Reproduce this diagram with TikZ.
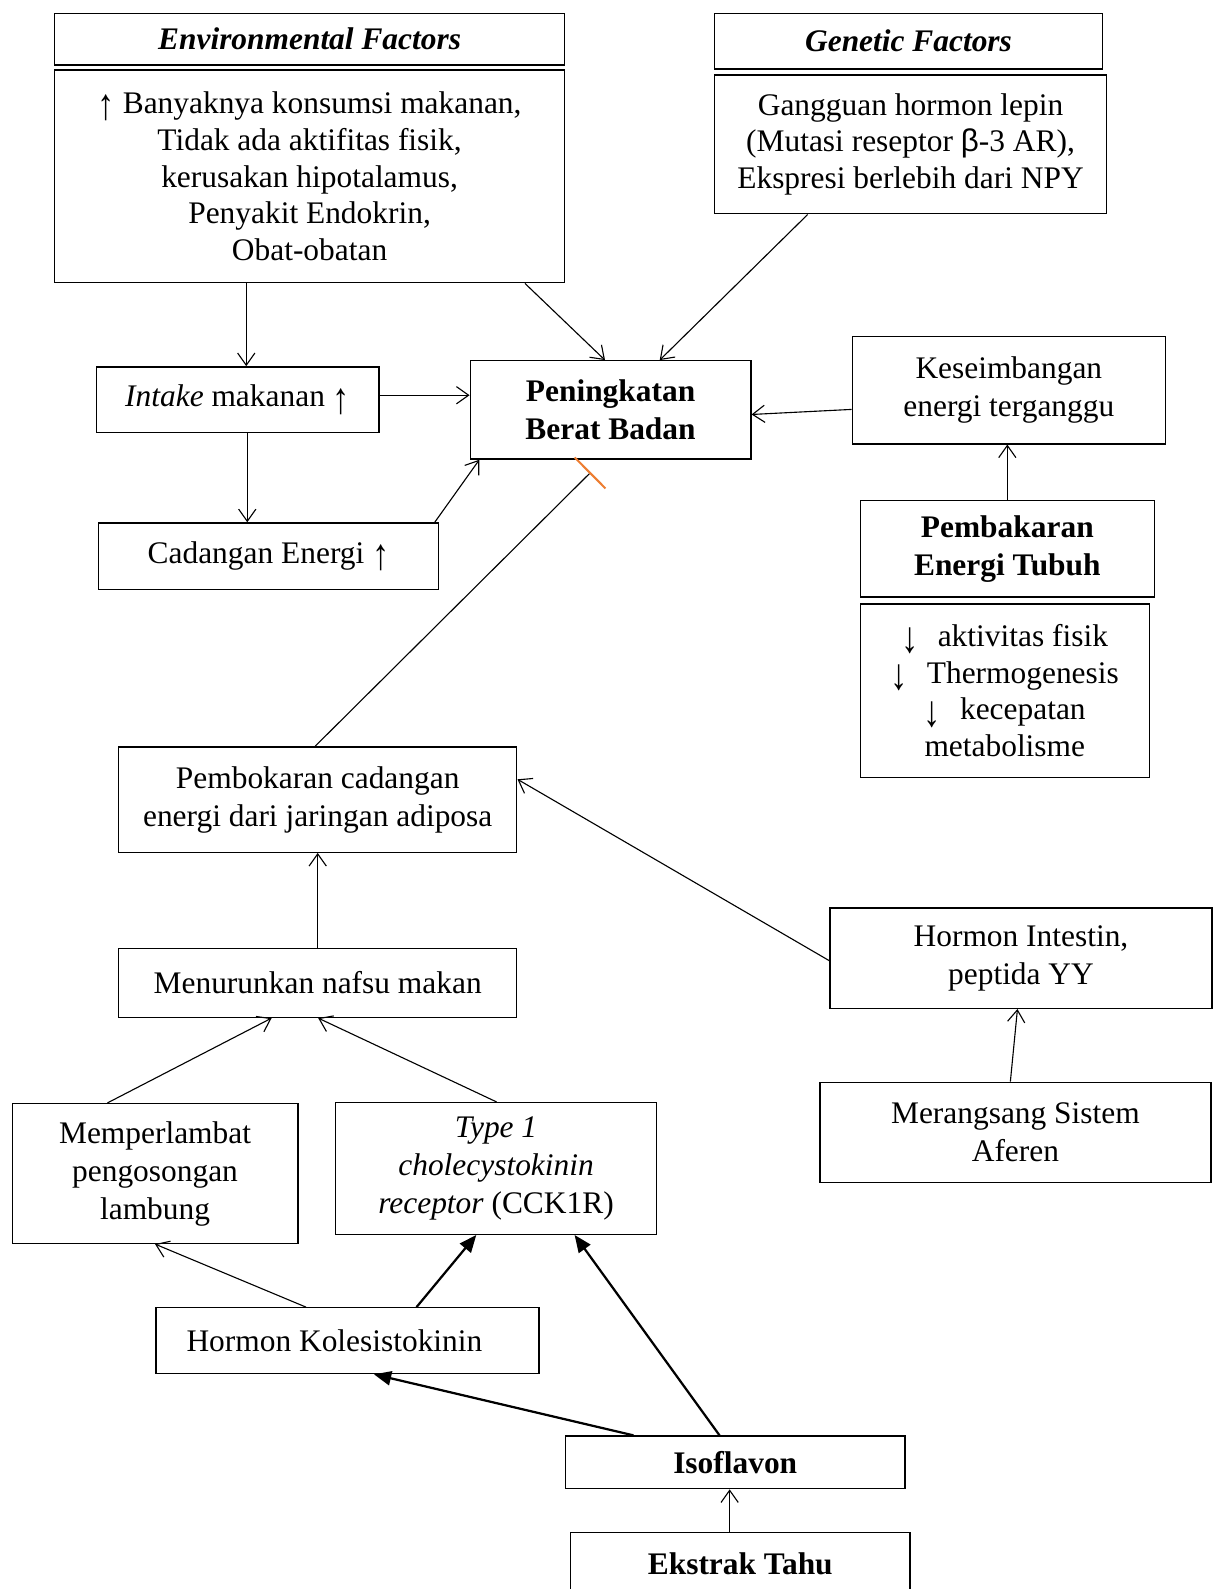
\documentclass[tikz,border=0pt]{standalone}
\usepackage{fontspec}
\setmainfont{Liberation Serif}
\newfontfamily\sansbeta{Liberation Sans}
\usetikzlibrary{arrows.meta}
\definecolor{barorange}{RGB}{237,125,49}
\newcommand\upar{\raisebox{-0.2em}{\scalebox{1.1}[1.4]{↑}}}
\newcommand\dnar{\raisebox{-0.2em}{\scalebox{1.1}[1.4]{↓}}}
\tikzset{
  box/.style={draw, line width=1.3pt, inner sep=0pt, align=center, font=\fontsize{31}{37.5}\selectfont},
  tight/.style={font=\fontsize{31}{36.2}\selectfont},
  arr/.style={line width=1.1pt, -{Straight Barb[length=12pt,width=17pt,line width=1.1pt]}},
  thickarr/.style={line width=2.2pt, -{Triangle[length=17pt,width=14pt]}},
  plain/.style={line width=1.1pt},
}
\begin{document}
\begin{tikzpicture}[x=1pt,y=-1pt]
\useasboundingbox[fill=white] (0,0) rectangle (1197,1568);

% nodes
\node[box, minimum width=503pt, minimum height=51pt] (envH) at (305.5,38.5) {\textbf{\textit{Environmental Factors}}};
\node[box, tight, minimum width=503pt, minimum height=210pt] (envB) at (305.5,174) {\upar{} Banyaknya konsumsi makanan,\\ Tidak ada aktifitas fisik,\\ kerusakan hipotalamus,\\ Penyakit Endokrin,\\ Obat-obatan};
\node[box, minimum width=383pt, minimum height=55pt] (genH) at (896.5,40.5) {\textbf{\textit{Genetic Factors}}};
\node[box, tight, minimum width=387pt, minimum height=137pt] (genB) at (898.5,142.5) {Gangguan hormon lepin\\ (Mutasi reseptor {\sansbeta β}-3 AR),\\ Ekspresi berlebih dari NPY};
\node[box, minimum width=279pt, minimum height=65pt] (intake) at (234.5,394.5) {\textit{Intake} makanan \upar};
\node[box, minimum width=277pt, minimum height=97pt] (pen) at (602.5,404.5) {\textbf{Peningkatan}\\ \textbf{Berat Badan}};
\node[box, minimum width=309pt, minimum height=106pt] (kes) at (995.5,385) {Keseimbangan\\ energi terganggu};
\node[box, minimum width=290pt, minimum height=95pt] (pemb) at (994,541.5) {\textbf{Pembakaran}\\ \textbf{Energi Tubuh}};
\node[box, tight, minimum width=285pt, minimum height=171pt] (list) at (991.5,681.5) {\dnar\hspace{0.6em}aktivitas fisik\\ \dnar\hspace{0.6em}Thermogenesis\\ \dnar\hspace{0.6em}kecepatan\\ metabolisme};
\node[box, minimum width=336pt, minimum height=66pt] (cad) at (265,549) {Cadangan Energi \upar};
\node[box, minimum width=393pt, minimum height=104pt] (pembok) at (313.5,789) {Pembokaran cadangan\\ energi dari jaringan adiposa};
\node[box, minimum width=377pt, minimum height=99pt] (hInt) at (1007.5,945.5) {Hormon Intestin,\\ peptida YY};
\node[box, minimum width=386pt, minimum height=99pt] (mer) at (1002,1117.5) {Merangsang Sistem\\ Aferen};
\node[box, minimum width=393pt, minimum height=68pt] (menur) at (313.5,970) {Menurunkan nafsu makan};
\node[box, minimum width=282pt, minimum height=138pt] (memp) at (153,1158) {Memperlambat\\ pengosongan\\ lambung};
\node[box, minimum width=317pt, minimum height=130pt] (type1) at (489.5,1153) {\textit{Type 1}\\ \textit{cholecystokinin}\\ \textit{receptor} (CCK1R)};
\node[box, minimum width=378pt, minimum height=65pt, align=left] (hKol) at (343,1323) {Hormon Kolesistokinin\hspace{26pt}};
\node[box, minimum width=335pt, minimum height=52pt] (iso) at (725.5,1443) {\textbf{Isoflavon}};
\node[box, minimum width=335pt, minimum height=62pt] (ekstrak) at (730.5,1543) {\textbf{Ekstrak Tahu}};

\coordinate (inh) at (583,466);

% connectors
\draw[arr] ([xshift=-62.5pt]envB.south) -- ([xshift=8.5pt]intake.north);
\draw[arr] ([xshift=212.5pt]envB.south) -- ([xshift=-5.5pt]pen.north);
\draw[arr] ([xshift=-101.5pt]genB.south) -- ([xshift=48.5pt]pen.north);
\draw[arr] ([yshift=4.5pt]intake.east) -- ([yshift=14.5pt]pen.west);
\draw[arr] ([yshift=-19pt]kes.west) -- ([yshift=-4.5pt]pen.east);
\draw[arr] (pemb.north) -- (pemb.north |- kes.south);
\draw[arr] ([xshift=9.5pt]intake.south) -- ([xshift=9.5pt]intake.south |- cad.north);
\draw[arr] ([xshift=164pt]cad.north) -- ([xshift=-129.5pt]pen.south);
\draw[plain, -{Bar[width=43pt,line width=2pt,color=barorange]}] ([xshift=-2.5pt]pembok.north) -- (inh);
\draw[arr] (menur.north) -- (pembok.south);
\draw[arr] ([yshift=-2.5pt]hInt.west) -- ([yshift=20pt]pembok.east);
\draw[arr] ([xshift=-5pt]mer.north) -- ([xshift=-3.5pt]hInt.south);
\draw[arr] ([xshift=-47pt]memp.north) -- ([xshift=-45.5pt]menur.south);
\draw[arr] ([xshift=0.5pt]type1.north) -- ([xshift=0.5pt]menur.south);
\draw[arr] ([xshift=-41pt]hKol.north) -- (memp.south);
\draw[thickarr] ([xshift=68pt]hKol.north) -- ([xshift=-19.5pt]type1.south);
\draw[thickarr] ([xshift=-100.5pt]iso.north) -- ([xshift=26pt]hKol.south);
\draw[thickarr] ([xshift=-15.5pt]iso.north) -- ([xshift=77.5pt]type1.south);
\draw[arr] ([xshift=-10.5pt]ekstrak.north) -- ([xshift=-10.5pt]ekstrak.north |- iso.south);
\end{tikzpicture}
\end{document}
